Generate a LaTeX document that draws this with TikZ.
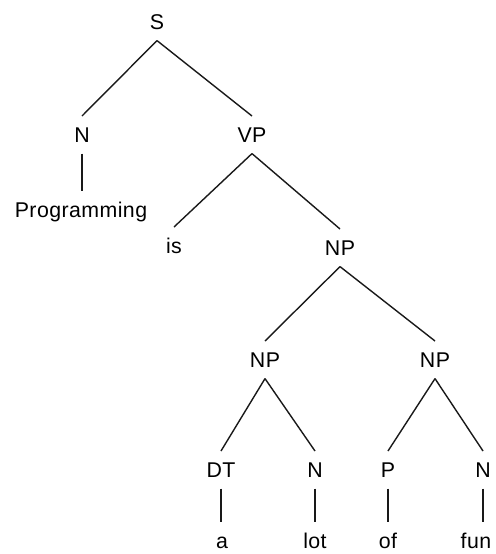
\documentclass[tikz,border=0pt]{standalone}
\usepackage{fontspec}
\setmainfont{Liberation Sans}[LetterSpace=2]
\begin{document}
\begin{tikzpicture}[x=0.75pt,y=-0.75pt,
  lbl/.style={anchor=base,inner xsep=0pt,inner ysep=8.5pt,text height=10.8pt,text depth=0pt,font=\fontsize{16}{18}\selectfont},
  edge/.style={line width=1.05pt,black!90}]
\useasboundingbox (0,0) rectangle (496,554);
\node[lbl] (S)   at (157,29)  {S};
\node[lbl] (N1)  at (82,142)  {N};
\node[lbl] (VP)  at (252,142) {VP};
\node[lbl] (Prog) at (81,217) {Programming};
\node[lbl] (is)  at (174,253) {is};
\node[lbl] (NP1) at (340,255) {NP};
\node[lbl] (NP2) at (265,367) {NP};
\node[lbl] (NP3) at (435,367) {NP};
\node[lbl] (DT)  at (221,477) {DT};
\node[lbl] (N2)  at (315,477) {N};
\node[lbl] (P)   at (388,477) {P};
\node[lbl] (N3)  at (483,477) {N};
\node[lbl] (a)   at (222,548) {a};
\node[lbl] (lot) at (315,548) {lot};
\node[lbl] (of)  at (388,548) {of};
\node[lbl] (fun) at (476,548) {fun};
\draw[edge] (S.south) -- (N1.north);
\draw[edge] (S.south) -- (VP.north);
\draw[edge] (N1.south) -- (N1.south |- Prog.north);
\draw[edge] (VP.south) -- (is.north);
\draw[edge] (VP.south) -- (NP1.north);
\draw[edge] (NP1.south) -- (NP2.north);
\draw[edge] (NP1.south) -- (NP3.north);
\draw[edge] (NP2.south) -- (DT.north);
\draw[edge] (NP2.south) -- (N2.north);
\draw[edge] (NP3.south) -- (P.north);
\draw[edge] (NP3.south) -- (N3.north);
\draw[edge] (DT.south) -- (DT.south |- a.north);
\draw[edge] (N2.south) -- (N2.south |- lot.north);
\draw[edge] (P.south) -- (P.south |- of.north);
\draw[edge] (N3.south) -- (N3.south |- fun.north);
\end{tikzpicture}
\end{document}
